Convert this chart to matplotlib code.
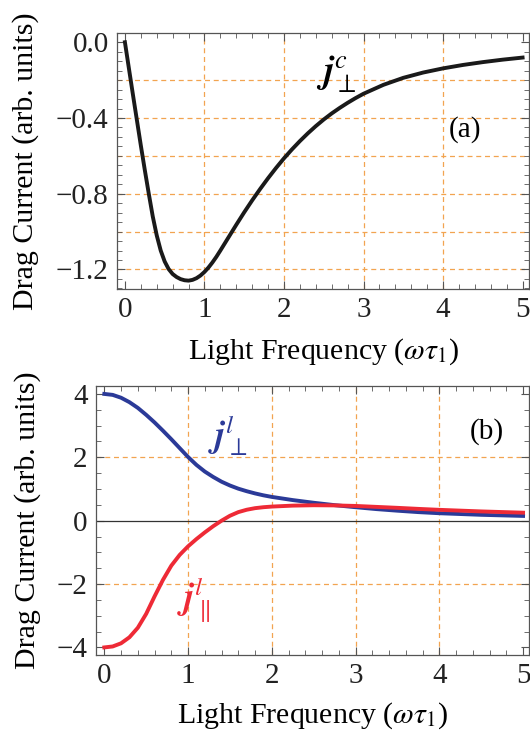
import numpy as np
import matplotlib
matplotlib.use("Agg")
import matplotlib.pyplot as plt
from matplotlib.ticker import MultipleLocator, FixedLocator

plt.rcParams['font.family'] = ['Liberation Serif', 'DejaVu Serif']
plt.rcParams['mathtext.fontset'] = 'stix'
plt.rcParams['axes.unicode_minus'] = True

# panel (a): circular drag current
w_c = [0, 0.05, 0.1, 0.15, 0.2, 0.25, 0.3, 0.35, 0.4, 0.45, 0.5, 0.55, 0.6, 0.65,
       0.7, 0.75, 0.8, 0.85, 0.9, 0.95, 1.0, 1.05, 1.1, 1.15, 1.2, 1.3, 1.4, 1.5,
       1.6, 1.7, 1.8, 1.9, 2.0, 2.1, 2.2, 2.3, 2.4, 2.5, 2.6, 2.7, 2.8, 2.9, 3.0,
       3.25, 3.5, 3.75, 4.0, 4.25, 4.5, 4.75, 5.0]
j_perp_c = [0, -0.138, -0.275, -0.41, -0.545, -0.675, -0.80, -0.92, -1.02, -1.10,
            -1.158, -1.198, -1.224, -1.240, -1.251, -1.257, -1.259, -1.255, -1.246,
            -1.232, -1.213, -1.19, -1.163, -1.133, -1.100, -1.032, -0.964, -0.898,
            -0.835, -0.775, -0.718, -0.664, -0.613, -0.566, -0.522, -0.481, -0.443,
            -0.408, -0.376, -0.347, -0.320, -0.295, -0.272, -0.225, -0.188, -0.160,
            -0.138, -0.120, -0.105, -0.092, -0.081]

# panel (b): linear drag currents
w_l = [0, 0.1, 0.2, 0.3, 0.4, 0.5, 0.6, 0.7, 0.8, 0.9, 1.0, 1.1, 1.2, 1.3, 1.4, 1.5,
       1.6, 1.7, 1.8, 1.9, 2.0, 2.25, 2.5, 2.75, 3.0, 3.25, 3.5, 3.75, 4.0, 4.5, 5.0]
j_perp_l = [4.00, 3.97, 3.88, 3.74, 3.56, 3.34, 3.10, 2.84, 2.57, 2.29, 2.01, 1.76,
            1.55, 1.38, 1.23, 1.11, 1.01, 0.93, 0.86, 0.80, 0.75, 0.65, 0.565, 0.49,
            0.425, 0.365, 0.315, 0.27, 0.235, 0.185, 0.15]
j_par_l = [-4.00, -3.97, -3.87, -3.68, -3.38, -2.94, -2.39, -1.87, -1.42, -1.08, -0.81,
           -0.58, -0.37, -0.175, 0.0, 0.155, 0.27, 0.345, 0.395, 0.425, 0.445, 0.475,
           0.487, 0.482, 0.465, 0.435, 0.405, 0.372, 0.342, 0.292, 0.252]

grid_col = '#F2A450'
spine_col = '#555555'
tick_fs = 21
label_fs = 21.5


def style_axes(ax, ylab_x, xlab_y):
    for s in ax.spines.values():
        s.set_color(spine_col)
        s.set_linewidth(0.9)
    ax.tick_params(which='both', direction='in', top=True, right=True,
                   color=spine_col, labelsize=tick_fs, labelcolor='#222222')
    ax.tick_params(which='major', length=6, width=0.8, pad=6)
    ax.tick_params(which='minor', length=3.5, width=0.6)
    ax.set_xlabel(r'Light Frequency ($\omega\tau_1$)', fontsize=label_fs, va='center')
    ax.set_ylabel('Drag Current (arb. units)', fontsize=label_fs, va='center')
    ax.yaxis.set_label_coords(ylab_x, 0.5)
    ax.xaxis.set_label_coords(0.5, xlab_y)


fig = plt.figure(figsize=(5.3, 7.34), dpi=100)

# (a)
ax1 = fig.add_axes([0.221, 0.6063, 0.777, 0.3488])
for gx in [1, 2, 3, 4]:
    ax1.axvline(gx, color=grid_col, lw=0.9, dashes=(4, 3), zorder=1)
for gy in [-0.2, -0.4, -0.6, -0.8, -1.0, -1.2]:
    ax1.axhline(gy, color=grid_col, lw=0.9, dashes=(4, 3), zorder=1)
ax1.plot(w_c, j_perp_c, color='#1a1a1a', lw=2.8, zorder=3)
ax1.set_xlim(-0.098, 5.08)
ax1.set_ylim(-1.303, 0.049)
ax1.xaxis.set_major_locator(MultipleLocator(1))
ax1.xaxis.set_minor_locator(MultipleLocator(0.2))
ax1.yaxis.set_major_locator(FixedLocator([0.0, -0.4, -0.8, -1.2]))
ax1.yaxis.set_minor_locator(MultipleLocator(0.05))
ax1.yaxis.set_major_formatter(plt.FuncFormatter(lambda v, p: f'{v:.1f}'.replace('-', '\u2212')))
style_axes(ax1, -0.223, -0.246)
ax1.text(2.66, -0.17, r'$\mathbfit{j}_{\perp}^{c}$', fontsize=27, ha='center', va='center')
ax1.text(4.27, -0.46, '(a)', fontsize=tick_fs, ha='center', va='center')

# (b)
ax2 = fig.add_axes([0.181, 0.1076, 0.817, 0.3665])
for gx in [1, 2, 3, 4]:
    ax2.axvline(gx, color=grid_col, lw=0.9, dashes=(4, 3), zorder=1)
for gy in [2, -2]:
    ax2.axhline(gy, color=grid_col, lw=0.9, dashes=(4, 3), zorder=1)
ax2.axhline(0, color='#333333', lw=0.9, zorder=2)
ax2.plot(w_l, j_perp_l, color='#2B3A98', lw=2.8, zorder=3)
ax2.plot(w_l, j_par_l, color='#EE2A36', lw=2.8, zorder=4)
ax2.set_xlim(-0.1, 5.07)
ax2.set_ylim(-4.24, 4.25)
ax2.xaxis.set_major_locator(MultipleLocator(1))
ax2.xaxis.set_minor_locator(MultipleLocator(0.2))
ax2.yaxis.set_major_locator(MultipleLocator(2))
ax2.yaxis.set_minor_locator(MultipleLocator(0.5))
style_axes(ax2, -0.159, -0.227)
ax2.text(1.47, 2.67, r'$\mathbfit{j}_{\perp}^{l}$', fontsize=26, ha='center', va='center',
         color='#2B3A98')
ax2.text(1.07, -2.5, r'$\mathbfit{j}_{\parallel}^{l}$', fontsize=26, ha='center', va='center',
         color='#EE2A36')
ax2.text(4.57, 2.8, '(b)', fontsize=tick_fs, ha='center', va='center')

fig.savefig('out.png', dpi=100)
